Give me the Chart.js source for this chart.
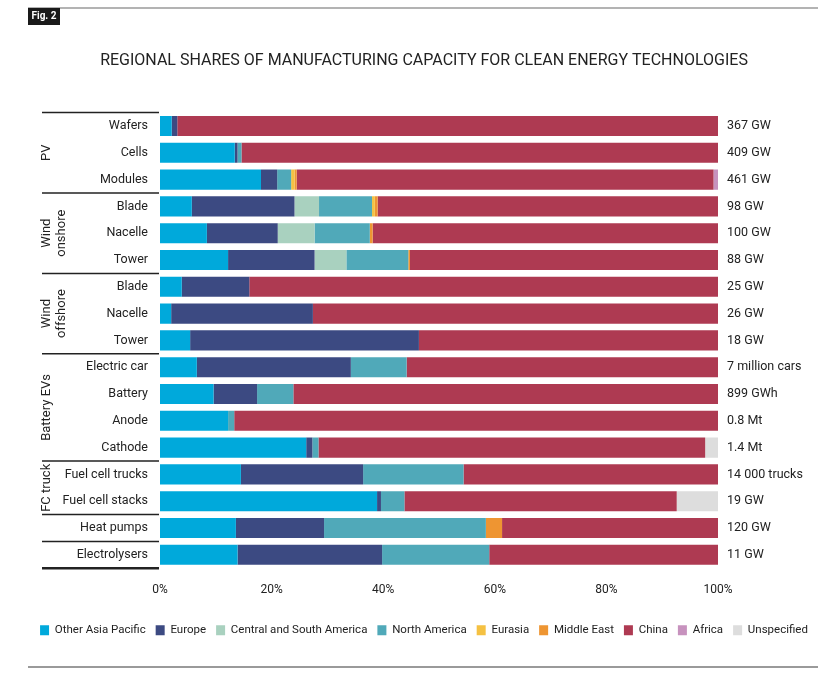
<!DOCTYPE html>
<html>
<head>
<meta charset="utf-8">
<script src="https://cdn.jsdelivr.net/npm/chart.js@4"></script>
<style>
  html, body { margin: 0; padding: 0; background: #fff; }
  #wrap { width: 830px; height: 676px; position: relative; }
</style>
</head>
<body>
<div id="wrap"><canvas id="c" width="830" height="676"></canvas></div>
<script>
// ---- Data ----
const categories = ['Wafers','Cells','Modules','Blade','Nacelle','Tower','Blade','Nacelle','Tower',
  'Electric car','Battery','Anode','Cathode','Fuel cell trucks','Fuel cell stacks','Heat pumps','Electrolysers'];
const capacityLabels = ['367 GW','409 GW','461 GW','98 GW','100 GW','88 GW','25 GW','26 GW','18 GW',
  '7 million cars','899 GWh','0.8 Mt','1.4 Mt','14 000 trucks','19 GW','120 GW','11 GW'];

const otherAsiaPacific = [2.1, 13.4, 18.1, 5.7, 8.4, 12.2, 3.9, 2.0, 5.4, 6.6, 9.6, 12.2, 26.2, 14.5, 38.9, 13.6, 13.9];
const europe           = [1.0, 0.5, 2.9, 18.4, 12.7, 15.5, 12.1, 25.4, 41.0, 27.6, 7.8, 0, 1.1, 21.9, 0.7, 15.8, 25.9];
const centralSouthAm   = [0, 0, 0, 4.4, 6.6, 5.7, 0, 0, 0, 0, 0, 0, 0, 0, 0, 0, 0];
const northAmerica     = [0, 0.7, 2.5, 9.5, 9.9, 11.1, 0, 0, 0, 10.0, 6.5, 1.1, 1.1, 18.0, 4.2, 29.0, 19.2];
const eurasia          = [0, 0, 0.6, 0.5, 0, 0, 0, 0, 0, 0, 0, 0, 0, 0, 0, 0, 0];
const middleEast       = [0, 0, 0.4, 0.5, 0.5, 0.3, 0, 0, 0, 0, 0, 0, 0, 0, 0, 2.9, 0];
const china            = [96.9, 85.4, 74.7, 61.0, 61.9, 55.2, 84.0, 72.6, 53.6, 55.8, 76.1, 86.7, 69.3, 45.6, 48.8, 38.7, 41.0];
const africa           = [0, 0, 0.8, 0, 0, 0, 0, 0, 0, 0, 0, 0, 0, 0, 0, 0, 0];
const unspecified      = [0, 0, 0, 0, 0, 0, 0, 0, 0, 0, 0, 0, 2.3, 0, 7.4, 0, 0];

const seriesNames = ['Other Asia Pacific','Europe','Central and South America','North America','Eurasia','Middle East','China','Africa','Unspecified'];
const seriesColors = ['#00a9db','#3c4a82','#a9d1bf','#50a9b9','#f5c142','#ee9532','#ae3a52','#c792be','#dddddd'];
const seriesValues = [otherAsiaPacific, europe, centralSouthAm, northAmerica, eurasia, middleEast, china, africa, unspecified];

const xTicks = [0, 20, 40, 60, 80, 100];

// groups: label lines, first and last category index
const groupLabels = [['PV'], ['Wind','onshore'], ['Wind','offshore'], ['Battery EVs'], ['FC truck'], [], []];
const groupFirst  = [0, 3, 6, 9, 13, 15, 16];
const groupLast   = [2, 5, 8, 12, 14, 15, 16];

const titleText = 'REGIONAL SHARES OF MANUFACTURING CAPACITY FOR CLEAN ENERGY TECHNOLOGIES';
const figText = 'Fig. 2';

// ---- Chart ----
Chart.defaults.font.family = 'Roboto, "Noto Sans", sans-serif';
Chart.defaults.color = '#222';

const decorPlugin = {
  id: 'decor',
  afterDraw(chart) {
    const ctx = chart.ctx;
    const y = chart.scales.y;
    ctx.save();
    // top rule and Fig label
    ctx.strokeStyle = '#9a9a9a';
    ctx.lineWidth = 1.5;
    ctx.beginPath(); ctx.moveTo(28, 8); ctx.lineTo(818, 8); ctx.stroke();
    ctx.fillStyle = '#1a1a1a';
    ctx.fillRect(28, 8, 32, 17);
    ctx.fillStyle = '#fff';
    ctx.font = 'bold 10px Roboto, sans-serif';
    ctx.textAlign = 'center'; ctx.textBaseline = 'middle';
    ctx.fillText(figText, 44, 16.5);
    // bottom rule
    ctx.strokeStyle = '#9a9a9a';
    ctx.lineWidth = 2;
    ctx.beginPath(); ctx.moveTo(28, 667); ctx.lineTo(818, 667); ctx.stroke();

    // group separators
    ctx.strokeStyle = '#222';
    const bounds = [groupFirst[0] - 0.5].concat(groupLast.map(v => v + 0.5));
    bounds.forEach((b, i) => {
      const py = y.getPixelForValue(b);
      ctx.lineWidth = (i === bounds.length - 1) ? 2.5 : 1.5;
      ctx.beginPath(); ctx.moveTo(42, py); ctx.lineTo(159, py); ctx.stroke();
    });
    // group labels (rotated)
    ctx.fillStyle = '#222';
    ctx.font = '13px Roboto, sans-serif';
    ctx.textAlign = 'center'; ctx.textBaseline = 'middle';
    groupLabels.forEach((lines, g) => {
      if (!lines.length) return;
      const cy = (y.getPixelForValue(groupFirst[g]) + y.getPixelForValue(groupLast[g])) / 2;
      lines.forEach((t, k) => {
        const cx = 47 + k * 14.5;
        ctx.save();
        ctx.translate(cx, cy);
        ctx.rotate(-Math.PI / 2);
        ctx.fillText(t, 0, 0);
        ctx.restore();
      });
    });
    ctx.restore();
  }
};

new Chart(document.getElementById('c'), {
  type: 'bar',
  data: {
    labels: categories,
    datasets: seriesNames.map((n, i) => ({
      label: n,
      data: seriesValues[i],
      backgroundColor: seriesColors[i],
      borderWidth: 0,
      barPercentage: 0.75,
      categoryPercentage: 1.0
    }))
  },
  options: {
    indexAxis: 'y',
    responsive: false,
    animation: false,
    layout: { padding: { left: 18, right: 0, top: 0, bottom: 30 } },
    plugins: {
      title: {
        display: true,
        text: titleText,
        font: { size: 16, weight: 'normal' },
        color: '#222',
        padding: { top: 51, bottom: 42.4 }
      },
      legend: {
        position: 'bottom',
        labels: {
          boxWidth: 9, boxHeight: 10,
          font: { size: 11.5 },
          padding: 10,
          color: '#222'
        }
      },
      tooltip: { enabled: false }
    },
    scales: {
      x: {
        stacked: true,
        min: 0, max: 100,
        afterBuildTicks(s) { s.ticks = xTicks.map(v => ({ value: v })); },
        ticks: { callback: v => v + '%', font: { size: 12 }, padding: 15, color: '#222' },
        grid: { display: false, drawTicks: false },
        border: { display: false },
        afterFit(s) { s.height = 46.3; }
      },
      y: {
        stacked: true,
        offset: true,
        ticks: { font: { size: 12.5 }, padding: 12, color: '#222', autoSkip: false },
        grid: { display: false, drawTicks: false },
        border: { display: false },
        afterFit(s) { s.width = 142; }
      },
      y2: {
        type: 'category',
        labels: capacityLabels,
        position: 'right',
        offset: true,
        ticks: { font: { size: 12.5 }, padding: 9, color: '#222', autoSkip: false },
        grid: { display: false, drawTicks: false },
        border: { display: false },
        afterFit(s) { s.width = 112; }
      }
    }
  },
  plugins: [decorPlugin]
});
</script>
</body>
</html>
